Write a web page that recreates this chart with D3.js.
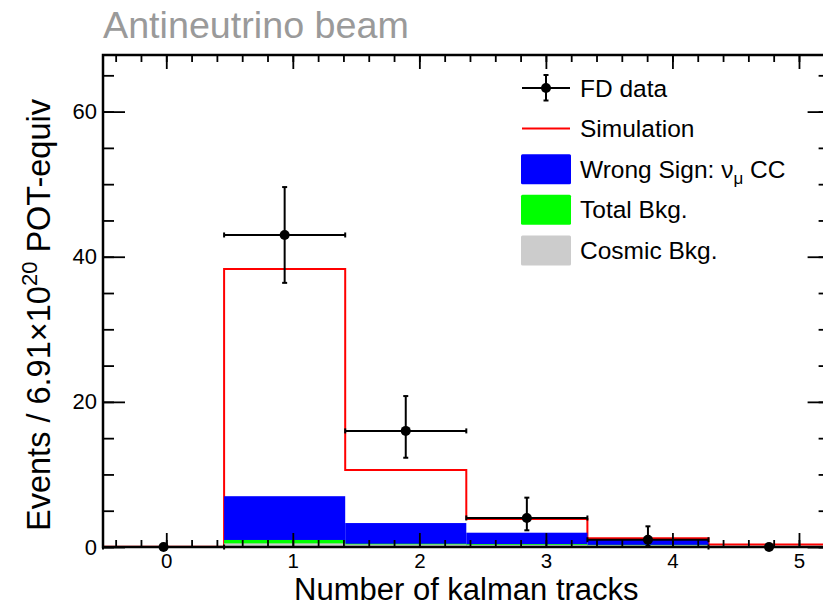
<!DOCTYPE html>
<html>
<head>
<meta charset="utf-8">
<script src="https://cdn.jsdelivr.net/npm/d3@7"></script>
<style>
  html, body { margin: 0; padding: 0; background: #fff; }
  svg { display: block; font-family: "Liberation Sans", Arial, sans-serif; }
</style>
</head>
<body>
<div id="chart"></div>
<script>
// Data
const binEdges = [-0.5, 0.457, 1.414, 2.371, 3.328, 4.285, 5.242];
const simulation = [0.05, 38.3, 10.6, 3.85, 1.2, 0.35];
const wrongSign = [0.05, 7.0, 3.3, 1.97, 1.05, 0.05];
const totalBkg = [0.05, 0.97, 0.45, 0.4, 0.3, 0.1];
const cosmicBkg = [0.03, 0.5, 0.35, 0.3, 0.25, 0.08];
const fdData = [0, 43, 16, 4, 1, 0];
const fdErrLow = [0, 6.6, 3.7, 1.7, 0.85, 0];
const fdErrHigh = [0, 6.6, 4.8, 2.8, 1.85, 0];
const xMajorTicks = [0, 1, 2, 3, 4, 5];
const yMajorTicks = [0, 20, 40, 60];
const legendLabels = ["FD data", "Simulation", "Wrong Sign: ν", "Total Bkg.", "Cosmic Bkg."];

const colors = {
  sim: "#ff0000",
  ws: "#0000ff",
  bkg: "#00ff00",
  cosmic: "#cccccc",
  data: "#000000",
};

// Dimensions
const width = 823;
const height = 607;
const frame = { left: 103, right: 829.6, top: 55, bottom: 547 };

const svg = d3
  .select("#chart")
  .append("svg")
  .attr("width", width)
  .attr("height", height);

// Scales
const xScale = d3.scaleLinear().domain([-0.5, 5.242]).range([frame.left, frame.right]);
const yScale = d3.scaleLinear().domain([0, 67.8]).range([frame.bottom, frame.top]);

const bins = simulation.map((d, i) => ({
  x0: binEdges[i],
  x1: binEdges[i + 1],
  sim: d,
  ws: wrongSign[i],
  bkg: totalBkg[i],
  cosmic: cosmicBkg[i],
  data: fdData[i],
  lo: fdErrLow[i],
  hi: fdErrHigh[i],
}));

const plot = svg.append("g");

// Simulation outline
const stepPts = bins.map((b) => [b.x0, b.sim]);
stepPts.push([bins[bins.length - 1].x1, bins[bins.length - 1].sim]);
const stepLine = d3
  .line()
  .x((d) => xScale(d[0]))
  .y((d) => yScale(d[1]))
  .curve(d3.curveStepAfter);

plot
  .append("path")
  .datum(stepPts)
  .attr("d", stepLine)
  .attr("fill", "none")
  .attr("stroke", colors.sim)
  .attr("stroke-width", 2);

// Filled components
function fillHist(key, color) {
  plot
    .append("g")
    .selectAll("rect")
    .data(bins)
    .join("rect")
    .attr("x", (d) => xScale(d.x0))
    .attr("width", (d) => xScale(d.x1) - xScale(d.x0))
    .attr("y", (d) => yScale(d[key]))
    .attr("height", (d) => yScale(0) - yScale(d[key]))
    .attr("fill", color);
}
fillHist("ws", colors.ws);
fillHist("bkg", colors.bkg);
fillHist("cosmic", colors.cosmic);

// Axes
function styleAxis(g, size = 22) {
  g.attr("font-size", size).attr("font-family", '"Liberation Sans", Arial, sans-serif');
  g.select(".domain").remove();
  g.selectAll(".tick line").attr("stroke", "#000").attr("stroke-width", 1.8);
  g.selectAll("text").attr("fill", "#000");
}

const xMinor = d3.range(-2, 27).map((i) => i * 0.2).filter((v) => v > -0.5 && v < 5.24);
const yMinor = d3.range(0, 14).map((i) => i * 5);

svg.append("g")
  .attr("transform", `translate(0,${frame.bottom})`)
  .call(d3.axisBottom(xScale).tickValues(xMinor).tickSize(-7).tickFormat(""))
  .call(styleAxis);
svg.append("g")
  .attr("transform", `translate(0,${frame.bottom})`)
  .call(d3.axisBottom(xScale).tickValues(xMajorTicks).tickSize(-14).tickPadding(6).tickFormat(d3.format("d")))
  .call(styleAxis, 20.5);
svg.append("g")
  .attr("transform", `translate(0,${frame.top})`)
  .call(d3.axisTop(xScale).tickValues(xMinor).tickSize(-7).tickFormat(""))
  .call(styleAxis);
svg.append("g")
  .attr("transform", `translate(0,${frame.top})`)
  .call(d3.axisTop(xScale).tickValues(xMajorTicks).tickSize(-14).tickFormat(""))
  .call(styleAxis);

svg.append("g")
  .attr("transform", `translate(${frame.left},0)`)
  .call(d3.axisLeft(yScale).tickValues(yMinor).tickSize(-11).tickFormat(""))
  .call(styleAxis);
svg.append("g")
  .attr("transform", `translate(${frame.left},0)`)
  .call(d3.axisLeft(yScale).tickValues(yMajorTicks).tickSize(-22).tickPadding(6).tickFormat(d3.format("d")))
  .call(styleAxis);
svg.append("g")
  .attr("transform", `translate(${frame.right},0)`)
  .call(d3.axisRight(yScale).tickValues(yMinor).tickSize(-11).tickFormat(""))
  .call(styleAxis);
svg.append("g")
  .attr("transform", `translate(${frame.right},0)`)
  .call(d3.axisRight(yScale).tickValues(yMajorTicks).tickSize(-22).tickFormat(""))
  .call(styleAxis);

// Data points with error bars
const cap = 2.5;
const dataG = svg.append("g").attr("stroke", colors.data).attr("stroke-width", 2);
bins.forEach((b) => {
  const cx = xScale((b.x0 + b.x1) / 2);
  const cy = yScale(b.data);
  const xa = xScale(b.x0);
  const xb = xScale(b.x1);
  dataG.append("line").attr("x1", xa).attr("x2", xb).attr("y1", cy).attr("y2", cy);
  dataG.append("line").attr("x1", xa).attr("x2", xa).attr("y1", cy - cap).attr("y2", cy + cap);
  dataG.append("line").attr("x1", xb).attr("x2", xb).attr("y1", cy - cap).attr("y2", cy + cap);
  if (b.hi > 0) {
    const yt = yScale(b.data + b.hi);
    const yb = yScale(b.data - b.lo);
    dataG.append("line").attr("x1", cx).attr("x2", cx).attr("y1", yt).attr("y2", yb);
    dataG.append("line").attr("x1", cx - cap).attr("x2", cx + cap).attr("y1", yt).attr("y2", yt);
    dataG.append("line").attr("x1", cx - cap).attr("x2", cx + cap).attr("y1", yb).attr("y2", yb);
  }
  dataG.append("circle").attr("cx", cx).attr("cy", cy).attr("r", 5).attr("fill", colors.data).attr("stroke", "none");
});

// Frame
svg.append("rect")
  .attr("x", frame.left)
  .attr("y", frame.top)
  .attr("width", frame.right - frame.left)
  .attr("height", frame.bottom - frame.top)
  .attr("fill", "none")
  .attr("stroke", "#000")
  .attr("stroke-width", 2.5);

// Titles
svg.append("text")
  .attr("x", 103)
  .attr("y", 37.5)
  .attr("font-size", 37.7)
  .attr("fill", "#9a9a9a")
  .text("Antineutrino beam");

svg.append("text")
  .attr("x", (frame.left + frame.right) / 2)
  .attr("y", 600.3)
  .attr("text-anchor", "middle")
  .attr("font-size", 31)
  .attr("fill", "#000")
  .text("Number of kalman tracks");

const yTitle = svg.append("text")
  .attr("transform", "translate(50,315) rotate(-90)")
  .attr("text-anchor", "middle")
  .attr("font-size", 32.5)
  .attr("fill", "#000");
yTitle.append("tspan").text("Events / 6.91×10");
yTitle.append("tspan").attr("font-size", 22).attr("dy", -13).text("20");
yTitle.append("tspan").attr("dy", 13).text(" POT-equiv");

// Legend
const leg = svg.append("g").attr("transform", "translate(521,88)");
const rowH = 40.6;
const legRows = leg.selectAll("g").data(legendLabels).join("g")
  .attr("transform", (d, i) => `translate(0,${i * rowH})`);

legRows.append("text")
  .attr("x", 59)
  .attr("y", 8.5)
  .attr("font-size", 24.5)
  .attr("fill", "#000")
  .each(function (d, i) {
    const t = d3.select(this);
    t.append("tspan").text(d);
    if (i === 2) {
      t.append("tspan").attr("font-size", 17).attr("dy", 6).text("μ");
      t.append("tspan").attr("dy", -6).text(" CC");
    }
  });

// FD data symbol
const sym0 = legRows.filter((d, i) => i === 0).append("g").attr("stroke", "#000").attr("stroke-width", 2);
sym0.append("line").attr("x1", 1).attr("x2", 49).attr("y1", 0).attr("y2", 0);
sym0.append("line").attr("x1", 25).attr("x2", 25).attr("y1", -13).attr("y2", 12.5);
sym0.append("line").attr("x1", 22.5).attr("x2", 27.5).attr("y1", -13).attr("y2", -13);
sym0.append("line").attr("x1", 22.5).attr("x2", 27.5).attr("y1", 12.5).attr("y2", 12.5);
sym0.append("circle").attr("cx", 25).attr("cy", 0).attr("r", 5).attr("fill", "#000").attr("stroke", "none");

// Simulation symbol
legRows.filter((d, i) => i === 1).append("line")
  .attr("x1", 1).attr("x2", 49).attr("y1", 0).attr("y2", 0)
  .attr("stroke", colors.sim).attr("stroke-width", 2);

// Filled boxes
const boxColors = [null, null, colors.ws, colors.bkg, colors.cosmic];
legRows.filter((d, i) => i >= 2).append("rect")
  .attr("x", 0)
  .attr("y", -15)
  .attr("width", 50)
  .attr("height", 30)
  .attr("rx", 1.5)
  .attr("fill", (d) => boxColors[legendLabels.indexOf(d)]);
</script>
</body>
</html>
